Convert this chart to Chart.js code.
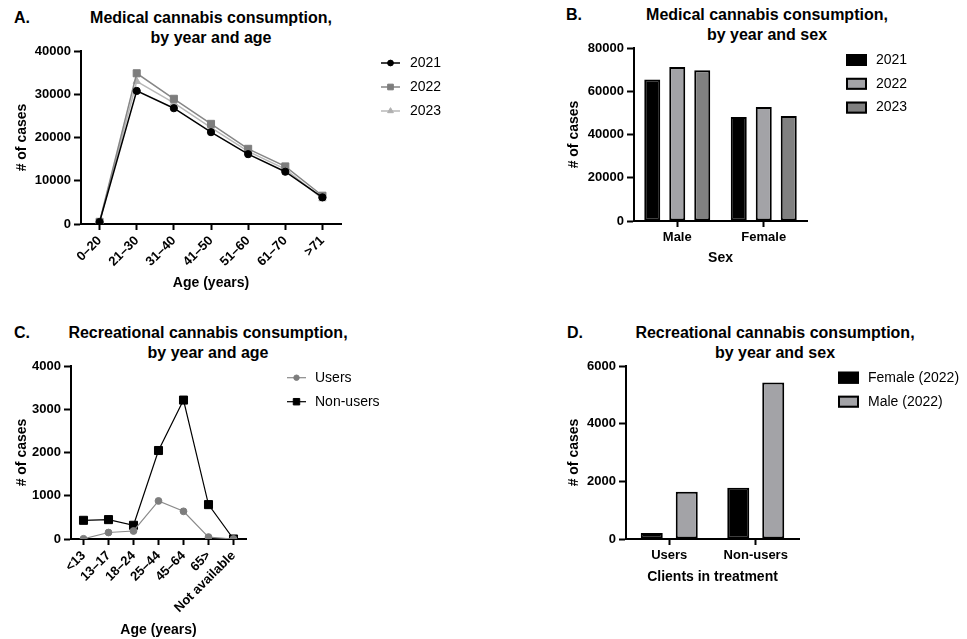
<!DOCTYPE html>
<html>
<head>
<meta charset="utf-8">
<script src="https://cdn.jsdelivr.net/npm/chart.js@4.4.1/dist/chart.umd.min.js"></script>
<style>
  html, body { margin: 0; padding: 0; background: #fff; }
  body { width: 967px; height: 639px; position: relative; overflow: hidden;
         font-family: "Liberation Sans", Arial, Helvetica, sans-serif; color: #000; }
  canvas { position: absolute; }
  .tag, .heading { position: absolute; font-weight: bold; font-size: 16px; line-height: 20px; white-space: nowrap; }
  .heading { width: 400px; text-align: center; }
</style>
</head>
<body>
<div class="tag" style="left:14px;top:8px">A.</div>
<div class="heading" style="left:11px;top:8px">Medical cannabis consumption,<br>by year and age</div>
<div class="tag" style="left:566px;top:5px">B.</div>
<div class="heading" style="left:567px;top:5px">Medical cannabis consumption,<br>by year and sex</div>
<div class="tag" style="left:14px;top:323px">C.</div>
<div class="heading" style="left:8px;top:323px">Recreational cannabis consumption,<br>by year and age</div>
<div class="tag" style="left:567px;top:323px">D.</div>
<div class="heading" style="left:575px;top:323px">Recreational cannabis consumption,<br>by year and sex</div>

<canvas id="chartA" width="480" height="300" style="left:0;top:0"></canvas>
<canvas id="chartB" width="487" height="300" style="left:480px;top:0"></canvas>
<canvas id="chartC" width="480" height="329" style="left:0;top:310px"></canvas>
<canvas id="chartD" width="487" height="329" style="left:480px;top:310px"></canvas>

<script>
// A. medical cannabis, by year and age
const medicalAgeGroups = ['0–20', '21–30', '31–40', '41–50', '51–60', '61–70', '>71'];
const medical2021 = [460, 30770, 26770, 21230, 16150, 12080, 6150];
const medical2022 = [500, 34850, 28950, 23150, 17380, 13310, 6540];
const medical2023 = [400, 33000, 28000, 22300, 16800, 12700, 5850];

// B. medical cannabis, by year and sex
const sexGroups = ['Male', 'Female'];
const sex2021 = [65400, 48100];
const sex2022 = [71200, 52700];
const sex2023 = [69700, 48600];

// C. recreational cannabis, by age
const recAgeGroups = ['<13', '13–17', '18–24', '25–44', '45–64', '65>', 'Not available'];
const recUsers = [5, 150, 185, 880, 640, 45, 0];
const recNonUsers = [432, 448, 317, 2046, 3212, 795, 0];

// D. recreational cannabis, by sex
const clientGroups = ['Users', 'Non-users'];
const female2022 = [210, 1780];
const male2022 = [1640, 5430];

Chart.defaults.font.family = '"Liberation Sans", Arial, Helvetica, sans-serif';
Chart.defaults.color = '#000';
Chart.defaults.animation = false;
Chart.defaults.plugins.legend.display = false;
Chart.defaults.plugins.tooltip.enabled = false;

const tickFont = { size: 13, weight: 'bold' };
const axisTitleFont = { size: 14, weight: 'bold' };

/**
 * Legend drawn to the right of the plot, styled from each dataset
 */
const sideLegend = {
  id: 'sideLegend',
  afterDraw(chart, args, opts) {
    const ctx = chart.ctx;
    ctx.save();
    ctx.font = '14px "Liberation Sans", Arial, Helvetica, sans-serif';
    ctx.textBaseline = 'middle';
    ctx.textAlign = 'left';
    chart.data.datasets.forEach((ds, i) => {
      const y = opts.top + i * opts.step;
      if (chart.config.type === 'bar') {
        ctx.fillStyle = ds.backgroundColor;
        ctx.fillRect(opts.left, y - 6, 21, 12);
        ctx.lineWidth = 2;
        ctx.strokeStyle = ds.borderColor;
        ctx.strokeRect(opts.left + 1, y - 5, 19, 10);
      } else {
        ctx.strokeStyle = ds.borderColor;
        ctx.lineWidth = ds.borderWidth;
        ctx.beginPath();
        ctx.moveTo(opts.left, y);
        ctx.lineTo(opts.left + 19, y);
        ctx.stroke();
        ctx.fillStyle = ds.pointBackgroundColor;
        ctx.strokeStyle = ds.pointBorderColor;
        ctx.lineWidth = 1;
        Chart.helpers.drawPoint(ctx, {
          pointStyle: ds.pointStyle,
          radius: ds.pointRadius * 0.8,
          rotation: 0,
          borderWidth: 1
        }, opts.left + 9.5, y);
      }
      ctx.fillStyle = '#000';
      ctx.fillText(ds.label, opts.textX, y);
    });
    ctx.restore();
  }
};

function yAxis(max, step, width, titlePad) {
  return {
    min: 0,
    max: max,
    border: { color: '#000', width: 2 },
    grid: { drawOnChartArea: false, tickLength: 7, tickWidth: 2, tickColor: '#000' },
    ticks: { stepSize: step, font: tickFont, color: '#000', padding: 3, callback: v => String(v) },
    title: { display: true, text: '# of cases', font: axisTitleFont, color: '#000',
             padding: { top: titlePad, bottom: 0 } },
    afterFit: scale => { scale.width = width; }
  };
}

function xAxis(text, height, titlePad, rotation) {
  return {
    offset: true,
    border: { color: '#000', width: 2 },
    grid: { offset: false, drawOnChartArea: false, tickLength: 6, tickWidth: 2, tickColor: '#000' },
    ticks: { font: tickFont, color: '#000', padding: 3, autoSkip: false,
             minRotation: rotation, maxRotation: rotation },
    title: { display: true, text: text, font: axisTitleFont, color: '#000',
             padding: { top: 0, bottom: titlePad } },
    afterFit: scale => { scale.height = height; }
  };
}

function lineSet(label, data, lineColor, pointColor, pointStyle, radius, width) {
  return {
    label, data,
    borderColor: lineColor,
    backgroundColor: pointColor,
    borderWidth: width,
    pointStyle: pointStyle,
    pointRadius: radius,
    pointBackgroundColor: pointColor,
    pointBorderColor: pointColor,
    pointBorderWidth: 1,
    tension: 0,
    fill: false
  };
}

function barSet(label, data, fill, catPct, barPct) {
  return {
    label, data,
    backgroundColor: fill,
    borderColor: '#000',
    borderWidth: 2,
    borderSkipped: false,
    categoryPercentage: catPct,
    barPercentage: barPct
  };
}

// A
new Chart(document.getElementById('chartA'), {
  type: 'line',
  data: {
    labels: medicalAgeGroups,
    datasets: [
      lineSet('2021', medical2021, '#000000', '#000000', 'circle', 3.6, 1.5),
      lineSet('2022', medical2022, '#868686', '#7d7d7d', 'rect', 5, 1.5),
      lineSet('2023', medical2023, '#b8b8b8', '#b0b0b0', 'triangle', 4.2, 1.5)
    ]
  },
  options: {
    responsive: false,
    layout: { padding: { top: 51, right: 139, bottom: 0, left: 0 } },
    scales: {
      x: xAxis('Age (years)', 76, 8, 45),
      y: yAxis(40000, 10000, 81, 13.6)
    },
    plugins: { sideLegend: { left: 381, textX: 410, top: 63, step: 24 } }
  },
  plugins: [sideLegend]
});

// B
new Chart(document.getElementById('chartB'), {
  type: 'bar',
  data: {
    labels: sexGroups,
    datasets: [
      barSet('2021', sex2021, '#000000', 0.867, 0.64),
      barSet('2022', sex2022, '#a3a3a7', 0.867, 0.64),
      barSet('2023', sex2023, '#808080', 0.867, 0.64)
    ]
  },
  options: {
    responsive: false,
    layout: { padding: { top: 48, right: 160, bottom: 0, left: 0 } },
    scales: {
      x: xAxis('Sex', 79, 33.3, 0),
      y: yAxis(80000, 20000, 154, 85.6)
    },
    plugins: { sideLegend: { left: 366, textX: 396, top: 60, step: 23.8 } }
  },
  plugins: [sideLegend]
});

// C
new Chart(document.getElementById('chartC'), {
  type: 'line',
  data: {
    labels: recAgeGroups,
    datasets: [
      lineSet('Users', recUsers, '#8a8a8a', '#7d7d7d', 'circle', 3.4, 1.2),
      lineSet('Non-users', recNonUsers, '#000000', '#000000', 'rect', 5.7, 1.2)
    ]
  },
  options: {
    responsive: false,
    layout: { padding: { top: 56, right: 234, bottom: 0, left: 0 } },
    scales: {
      x: xAxis('Age (years)', 100, 0.6, 45),
      y: yAxis(4000, 1000, 71, 13.3)
    },
    plugins: { sideLegend: { left: 287, textX: 315, top: 67.7, step: 24 } }
  },
  plugins: [sideLegend]
});

// D
new Chart(document.getElementById('chartD'), {
  type: 'bar',
  data: {
    labels: clientGroups,
    datasets: [
      barSet('Female (2022)', female2022, '#000000', 0.809, 0.629),
      barSet('Male (2022)', male2022, '#a3a3a7', 0.809, 0.629)
    ]
  },
  options: {
    responsive: false,
    layout: { padding: { top: 56, right: 168, bottom: 0, left: 0 } },
    scales: {
      x: xAxis('Clients in treatment', 100, 53.9, 0),
      y: yAxis(6000, 2000, 146, 85.9)
    },
    plugins: { sideLegend: { left: 358, textX: 388, top: 67.7, step: 24 } }
  },
  plugins: [sideLegend]
});
</script>
</body>
</html>
